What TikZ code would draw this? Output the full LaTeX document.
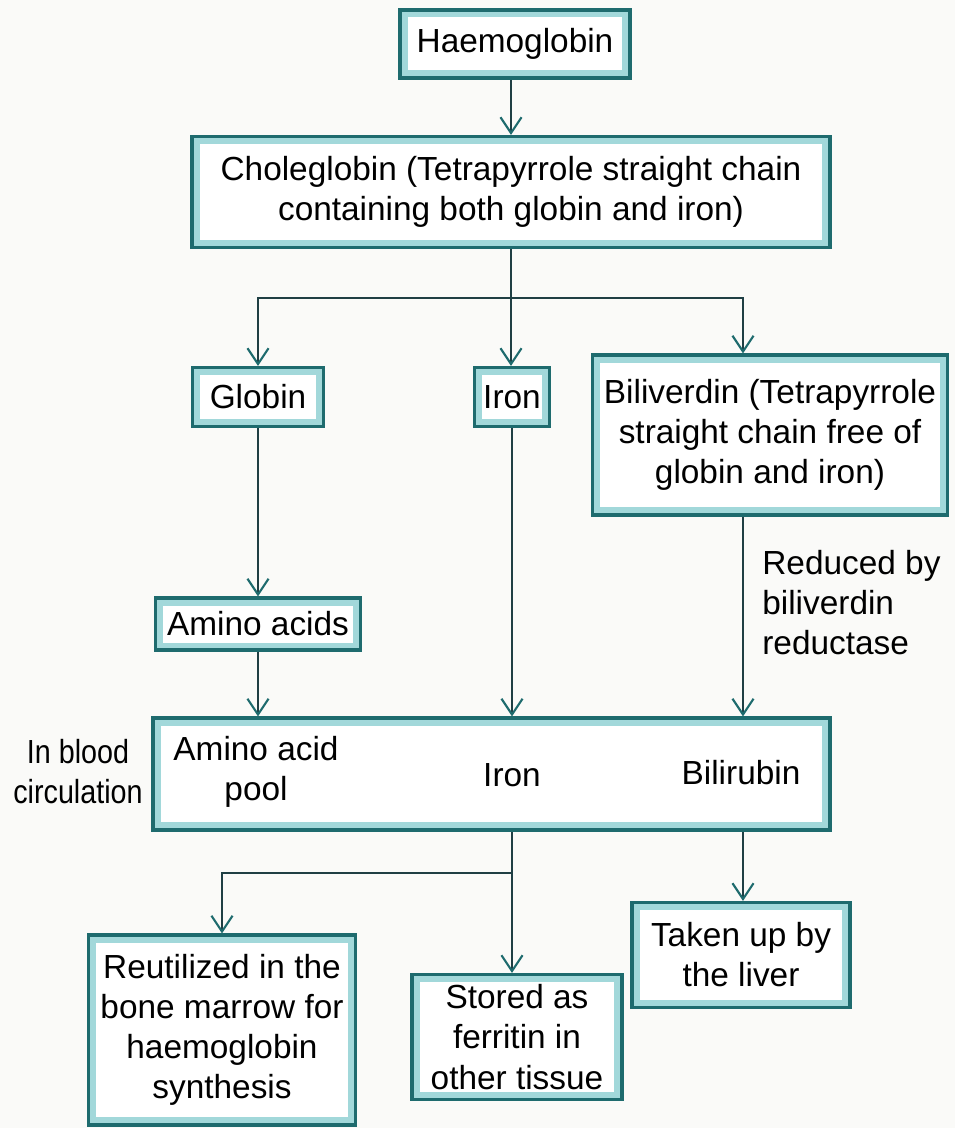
\documentclass[tikz,border=0pt]{standalone}
\usepackage{fontspec}
\setmainfont{Liberation Sans}
\newfontfamily\narrowfont{Liberation Sans}[FakeStretch=0.86]
\usetikzlibrary{arrows.meta}
\definecolor{boxedge}{HTML}{1E6B6E}
\definecolor{boxband}{HTML}{A2D8DA}
\definecolor{linecol}{HTML}{1F3F44}
\definecolor{paper}{HTML}{FAFAF8}

\begin{document}
\begin{tikzpicture}[x=0.02cm,y=-0.02cm,
  every node/.style={font=\fontsize{19}{22.8}\selectfont, inner sep=0pt},
  box/.style={draw=boxedge, line width=1.8pt, fill=boxband, align=center,
    path picture={\fill[white] ([shift={(0.15cm,0.15cm)}]path picture bounding box.south west)
      rectangle ([shift={(-0.15cm,-0.15cm)}]path picture bounding box.north east);}},
  link/.style={draw=linecol, line width=0.9pt},
  arr/.style={link, -{Straight Barb[color=boxedge, length=9pt, width=12pt, line width=1.2pt]}}]
% page
\useasboundingbox[fill=paper] (0,0) rectangle (955,1128);
% top of the chart
\node[box, minimum width=4.6cm, minimum height=1.36cm] (haem) at (515,44) {Haemoglobin};
\node[box, minimum width=12.76cm, minimum height=2.22cm] (chole) at (511,192)
  {Choleglobin (Tetrapyrrole straight chain\\containing both globin and iron)};
% the three products
\node[box, minimum width=2.62cm, minimum height=1.18cm] (globin) at (258,397) {Globin};
\node[box, minimum width=1.5cm, minimum height=1.18cm] (iron1) at (512,397) {Iron};
\node[box, minimum width=7.1cm, minimum height=3.2cm] (biliv) at (770,435)
  {Biliverdin (Tetrapyrrole\\straight chain free of\\globin and iron)};
\node[box, minimum width=4.1cm, minimum height=1.04cm] (amino) at (258,624) {Amino acids};
\node[align=left, anchor=north west] (reduce) at (762,550) {Reduced by\\biliverdin\\reductase};
% the pool in the blood
\node[box, minimum width=13.54cm, minimum height=2.24cm] (pool) at (491.5,774) {};
\node[align=center] (aapool) at (256,772) {Amino acid\\pool};
\node (iron2) at (512,775) {Iron};
\node (bilirubin) at (741,773) {Bilirubin};
\node[align=center, font=\narrowfont\fontsize{19}{22.8}\selectfont] (blood) at (78,772)
  {In blood\\circulation};
% where it all ends up
\node[box, minimum width=5.34cm, minimum height=3.8cm] (reutil) at (222,1030)
  {Reutilized in the\\bone marrow for\\haemoglobin\\synthesis};
\node[box, minimum width=4.2cm, minimum height=2.5cm] (stored) at (517,1037)
  {Stored as\\ferritin in\\other tissue};
\node[box, minimum width=4.36cm, minimum height=2.1cm] (liver) at (741,955)
  {Taken up by\\the liver};
\coordinate (split) at (511,298);
\coordinate (bcol) at (743,298);
\coordinate (branch) at (512,873);
\draw[arr] (split |- haem.south) -- (split |- chole.north);
\draw[link] (chole.south) -- (split);
\draw[arr] (split) -| (globin.north);
\draw[arr] (split) -- (split |- iron1.north);
\draw[arr] (split) -| (bcol |- biliv.north);
\draw[arr] (globin) -- (amino);
\draw[arr] (amino) -- (amino |- pool.north);
\draw[arr] (iron1) -- (iron1 |- pool.north);
\draw[arr] (bcol |- biliv.south) -- (bcol |- pool.north);
\draw[arr] (pool.south -| branch) -- (branch |- stored.north);
\draw[arr] (branch) -| (reutil.north);
\draw[arr] (bcol |- pool.south) -- (bcol |- liver.north);
\end{tikzpicture}
\end{document}
